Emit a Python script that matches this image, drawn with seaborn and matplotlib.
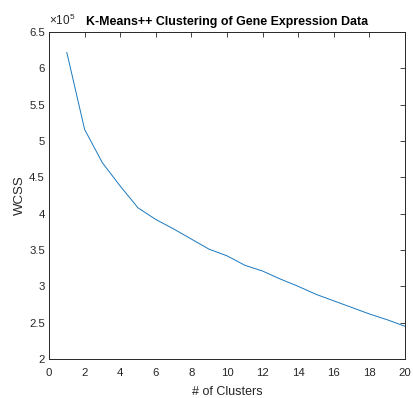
import matplotlib
matplotlib.use("Agg")
import matplotlib.pyplot as plt
import seaborn as sns
import pandas as pd
import numpy as np

# Data (WCSS in units of 1e5)
clusters = [1, 2, 3, 4, 5, 6, 7, 8, 9, 10, 11, 12, 13, 14, 15, 16, 17, 18, 19, 20]
wcss = [6.22, 5.16, 4.70, 4.38, 4.08, 3.92, 3.79, 3.65, 3.51, 3.42,
        3.29, 3.21, 3.10, 3.00, 2.89, 2.80, 2.71, 2.62, 2.54, 2.45]
x_ticks = [0, 2, 4, 6, 8, 10, 12, 14, 16, 18, 20]
y_ticks = [2, 2.5, 3, 3.5, 4, 4.5, 5, 5.5, 6, 6.5]
y_tick_labels = ["2", "2.5", "3", "3.5", "4", "4.5", "5", "5.5", "6", "6.5"]

sns.set_style("white")
plt.rcParams['font.family'] = ['Liberation Sans', 'DejaVu Sans']
plt.rcParams['mathtext.fontset'] = 'custom'
plt.rcParams['mathtext.rm'] = 'Liberation Sans'

df = pd.DataFrame({"clusters": clusters, "wcss": wcss})

fig = plt.figure(figsize=(4.13, 3.98), dpi=100)
ax = fig.add_axes([49/413, 1 - 359/398, (405-49)/413, (359-32)/398])

sns.lineplot(data=df, x="clusters", y="wcss", ax=ax, color="#1a78bf", linewidth=0.7)

ax.set_xlim(0, 20)
ax.set_ylim(2, 6.5)
ax.set_xticks(x_ticks)
ax.set_yticks(y_ticks)
ax.set_yticklabels(y_tick_labels)

tick_color = "#262626"
ax.tick_params(axis="both", which="both", direction="in", length=3.5, width=0.6,
               top=True, right=True, labelsize=8.2, colors=tick_color, pad=3)
ax.tick_params(axis="x", pad=6.5)
for sp in ax.spines.values():
    sp.set_color(tick_color)
    sp.set_linewidth(0.7)
    sp.set_visible(True)

ax.set_xlabel("# of Clusters", fontsize=9, color=tick_color, labelpad=5.5)
ax.set_ylabel("WCSS", fontsize=9.5, color=tick_color, labelpad=2)
ax.set_title("K-Means++ Clustering of Gene Expression Data", fontsize=8.9,
             fontweight="bold", color="black", pad=5, x=0.5)
ax.text(0.0, 1.012, r"$\times10^5$", transform=ax.transAxes, fontsize=8.5,
        color=tick_color, ha="left", va="bottom")

fig.savefig("out.png", dpi=100, facecolor="white")
